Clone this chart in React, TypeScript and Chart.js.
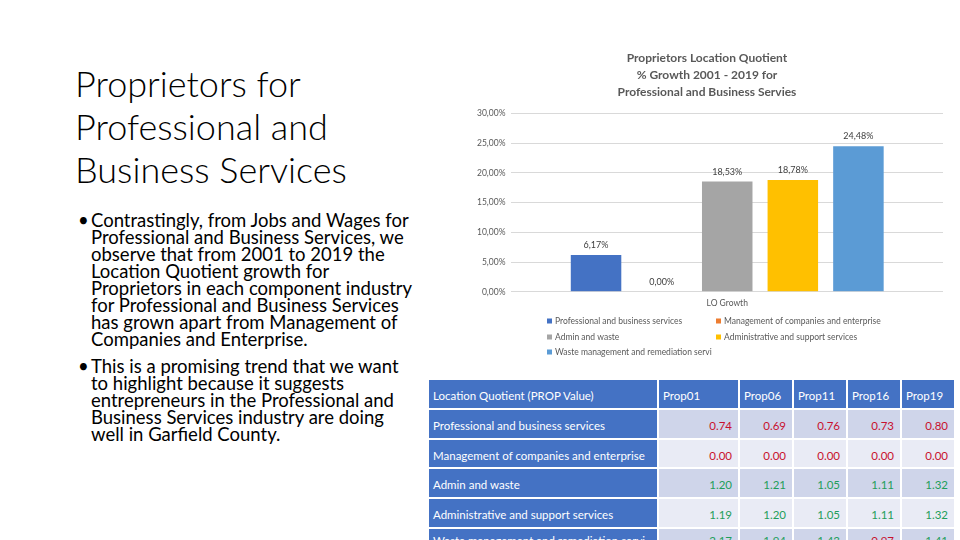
import React, { useEffect, useRef } from "react";
import { Chart, registerables } from "chart.js";

Chart.register(...registerables);

// ---------- data ----------
const chartTitle = ["Proprietors Location Quotient", "% Growth 2001 - 2019 for", "Professional and Business Servies"];
const categories = ["LQ Growth"];
const seriesNames = [
  "Professional and business services",
  "Management of companies and enterprise",
  "Admin and waste",
  "Administrative and support services",
  "Waste management and remediation servi",
];
const growthValues = [6.17, 0.0, 18.53, 18.78, 24.48];
const seriesColors = ["#4472C4", "#ED7D31", "#A5A5A5", "#FFC000", "#5B9BD5"];
const yMin = 0;
const yMax = 30;
const yStep = 5;

const tableHeader = ["Location Quotient (PROP Value)", "Prop01", "Prop06", "Prop11", "Prop16", "Prop19"];
const tableRowNames = [
  "Professional and business services",
  "Management of companies and enterprise",
  "Admin and waste",
  "Administrative and support services",
  "Waste management and remediation servi",
];
const prop01 = [0.74, 0.0, 1.2, 1.19, 2.17];
const prop06 = [0.69, 0.0, 1.21, 1.2, 1.94];
const prop11 = [0.76, 0.0, 1.05, 1.05, 1.43];
const prop16 = [0.73, 0.0, 1.11, 1.11, 0.97];
const prop19 = [0.8, 0.0, 1.32, 1.32, 1.41];

const slideTitle = ["Proprietors for", "Professional and", "Business Services"];
const bullet1 = [
  "Contrastingly, from Jobs and Wages for",
  "Professional and Business Services, we",
  "observe that from 2001 to 2019 the",
  "Location Quotient growth for",
  "Proprietors in each component industry",
  "for Professional and Business Services",
  "has grown apart from Management of",
  "Companies and Enterprise.",
];
const bullet2 = [
  "This is a promising trend that we want",
  "to highlight because it suggests",
  "entrepreneurs in the Professional and",
  "Business Services industry are doing",
  "well in Garfield County.",
];

// ---------- helpers ----------
const pct = (v: number) => v.toFixed(2).replace(".", ",") + "%";
const FONT = "Lato, 'Open Sans', sans-serif";

const valueLabels = {
  id: "valueLabels",
  afterDatasetsDraw(chart: any) {
    const ctx = chart.ctx;
    ctx.save();
    ctx.font = `9px ${FONT}`;
    ctx.fillStyle = "#404040";
    ctx.textAlign = "center";
    ctx.textBaseline = "middle";
    chart.data.datasets.forEach((ds: any, i: number) => {
      const meta = chart.getDatasetMeta(i);
      meta.data.forEach((el: any, j: number) => {
        ctx.fillText(pct(ds.data[j]), el.x, el.y - 10);
      });
    });
    ctx.restore();
  },
};

const gridLegend = {
  id: "gridLegend",
  afterDraw(chart: any) {
    const ctx = chart.ctx;
    const colX = [107, 276];
    const rowY = [281, 297, 312];
    ctx.save();
    ctx.font = `8.5px ${FONT}`;
    ctx.textBaseline = "middle";
    ctx.textAlign = "left";
    chart.data.datasets.forEach((ds: any, i: number) => {
      const x = colX[i % 2];
      const y = rowY[Math.floor(i / 2)];
      ctx.fillStyle = ds.backgroundColor;
      ctx.fillRect(x, y - 2.5, 5, 5);
      ctx.fillStyle = "#595959";
      ctx.fillText(ds.label, x + 8, y);
    });
    ctx.restore();
  },
};

function BarChart() {
  const ref = useRef<HTMLCanvasElement | null>(null);
  useEffect(() => {
    if (!ref.current) return;
    const chart = new Chart(ref.current, {
      type: "bar",
      data: {
        labels: categories,
        datasets: seriesNames.map((name, i) => ({
          label: name,
          data: [growthValues[i]],
          backgroundColor: seriesColors[i],
          barPercentage: 0.77,
          categoryPercentage: 0.76,
        })),
      },
      options: {
        animation: false,
        responsive: false,
        devicePixelRatio: 1,
        layout: { padding: { left: 31, right: 17, top: 10, bottom: 64 } },
        plugins: {
          legend: { display: false },
          tooltip: { enabled: false },
          title: {
            display: true,
            text: chartTitle,
            color: "#595959",
            font: { family: FONT, size: 12, weight: "bold", lineHeight: 1.4 },
            padding: { top: 0, bottom: 13 },
          },
        },
        scales: {
          x: {
            grid: { display: false },
            border: { display: false },
            ticks: { color: "#595959", font: { family: FONT, size: 8.5 }, padding: -2 },
          },
          y: {
            min: yMin,
            max: yMax,
            grid: { color: "#D9D9D9", drawTicks: false },
            border: { display: false },
            ticks: {
              stepSize: yStep,
              color: "#595959",
              font: { family: FONT, size: 8.5 },
              padding: 6,
              callback: (v: any) => pct(Number(v)),
            },
          },
        },
      },
      plugins: [valueLabels, gridLegend],
    });
    return () => chart.destroy();
  }, []);
  return (
    <canvas
      ref={ref}
      width={520}
      height={330}
      style={{ position: "absolute", left: 440, top: 40, width: 520, height: 330 }}
    />
  );
}

const colWidths = [228, 79, 52, 52, 52, 52];
const rowHeights = [28, 28, 27, 28, 28, 20];
const RED = "#C8102E";
const GREEN = "#1E9E5A";

function LQTable() {
  const cols = [prop01, prop06, prop11, prop16, prop19];
  const cells: any[] = [];
  tableHeader.forEach((h, c) => {
    cells.push(
      <div key={`h${c}`} style={{ background: "#4472C4", color: "#fff", display: "flex", alignItems: "center", paddingLeft: 4, paddingTop: 3, boxSizing: "border-box" }}>
        {h}
      </div>
    );
  });
  tableRowNames.forEach((name, r) => {
    const bg = r % 2 === 0 ? "#CFD5EA" : "#E9EBF5";
    cells.push(
      <div key={`n${r}`} style={{ background: "#4472C4", color: "#fff", display: "flex", alignItems: "center", paddingLeft: 4, paddingTop: 3, boxSizing: "border-box", whiteSpace: "nowrap", overflow: "hidden" }}>
        {name}
      </div>
    );
    cols.forEach((col, c) => {
      const v = col[r];
      cells.push(
        <div key={`v${r}-${c}`} style={{ background: bg, color: v < 1 ? RED : GREEN, display: "flex", alignItems: "center", justifyContent: "flex-end", paddingRight: 6, paddingTop: 3, boxSizing: "border-box" }}>
          {v.toFixed(2)}
        </div>
      );
    });
  });
  return (
    <div
      style={{
        position: "absolute",
        left: 429,
        top: 380,
        display: "grid",
        gridTemplateColumns: colWidths.map((w) => w + "px").join(" "),
        gridTemplateRows: rowHeights.map((h) => h + "px").join(" "),
        gap: 2,
        fontFamily: FONT,
        fontSize: 11.5,
      }}
    >
      {cells}
    </div>
  );
}

export default function App() {
  return (
    <div style={{ position: "fixed", left: 0, top: 0, width: 960, height: 540, overflow: "hidden", background: "#fff", fontFamily: FONT }}>
      <div style={{ position: "absolute", left: 75, top: 62, fontSize: 36, fontWeight: 300, lineHeight: "43px", color: "#000", whiteSpace: "nowrap" }}>
        {slideTitle.map((t, i) => (
          <div key={i}>{t}</div>
        ))}
      </div>
      <div style={{ position: "absolute", left: 78, top: 212, fontSize: 18.5, lineHeight: "17px", color: "#000", whiteSpace: "nowrap" }}>
        {[bullet1, bullet2].map((lines, b) => (
          <div key={b} style={{ position: "relative", paddingLeft: 13, marginBottom: 10 }}>
            <span style={{ position: "absolute", left: 0, top: 0 }}>•</span>
            {lines.map((l, i) => (
              <div key={i}>{l}</div>
            ))}
          </div>
        ))}
      </div>
      <BarChart />
      <LQTable />
    </div>
  );
}
